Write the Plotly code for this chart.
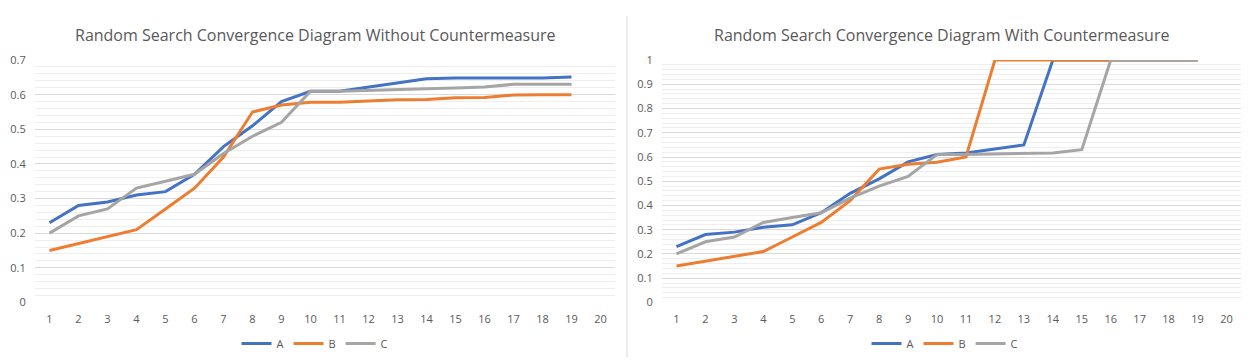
import plotly.graph_objects as go
from plotly.subplots import make_subplots

# =====================================================
# DATA
# =====================================================
iterations = list(range(1, 20))
x_ticks = list(range(1, 21))

# without countermeasure
a_without = [0.23, 0.28, 0.29, 0.31, 0.32, 0.37, 0.45, 0.51, 0.58, 0.61,
             0.61, 0.622, 0.635, 0.646, 0.648, 0.648, 0.648, 0.648, 0.651]
b_without = [0.15, 0.17, 0.19, 0.21, 0.27, 0.33, 0.42, 0.55, 0.57, 0.578,
             0.578, 0.582, 0.585, 0.586, 0.591, 0.592, 0.599, 0.6, 0.6]
c_without = [0.20, 0.25, 0.27, 0.33, 0.35, 0.37, 0.43, 0.48, 0.52, 0.61,
             0.61, 0.613, 0.616, 0.617, 0.619, 0.622, 0.63, 0.63, 0.63]

# with countermeasure
a_with = [0.23, 0.28, 0.29, 0.31, 0.32, 0.37, 0.45, 0.51, 0.58, 0.61,
          0.617, 0.632, 0.65, 1, 1, 1, 1, 1, 1]
b_with = [0.15, 0.17, 0.19, 0.21, 0.27, 0.33, 0.42, 0.55, 0.57, 0.578,
          0.6, 1, 1, 1, 1, 1, 1, 1, 1]
c_with = [0.20, 0.25, 0.27, 0.33, 0.35, 0.37, 0.43, 0.48, 0.52, 0.61,
          0.61, 0.613, 0.614, 0.617, 0.63, 1, 1, 1, 1]

series_names = ["A", "B", "C"]
colors = ["#4472C4", "#ED7D31", "#A5A5A5"]

titles = [
    "Random Search Convergence Diagram Without Countermeasure",
    "Random Search Convergence Diagram With Countermeasure",
]

# =====================================================
# PAGE GEOMETRY
# the page body has an 8px margin, so the figure starts 8px in from
# the window corner; the numbers below are window pixels
# =====================================================
OFF = 8
W, H = 1254 - OFF, 364 - OFF


def px(x):
    return (x - OFF) / W


def py(y):
    return 1 - (y - OFF) / H


# =====================================================
# FIGURE
# =====================================================
fig = make_subplots(rows=1, cols=2)

left = [a_without, b_without, c_without]
right = [a_with, b_with, c_with]

for name, col, ys in zip(series_names, colors, left):
    fig.add_trace(go.Scatter(
        x=iterations, y=ys, name=name, mode="lines",
        line=dict(color=col, width=3), legend="legend",
    ), row=1, col=1)

for name, col, ys in zip(series_names, colors, right):
    fig.add_trace(go.Scatter(
        x=iterations, y=ys, name=name, mode="lines",
        line=dict(color=col, width=3), legend="legend2",
    ), row=1, col=2)

TICK_FONT = dict(family="Open Sans", size=11, color="#595959")
TITLE_FONT = dict(family="Open Sans", size=16, color="#595959")

xaxis_common = dict(
    range=[0.5, 20.5], tickvals=x_ticks, showgrid=False, zeroline=False,
    showline=False, ticks="outside", ticklen=6, tickcolor="rgba(0,0,0,0)",
    tickfont=TICK_FONT, fixedrange=True,
)
yaxis_common = dict(
    showgrid=True, gridcolor="#D9D9D9", gridwidth=1, zeroline=False,
    showline=False, ticks="outside", ticklen=6, tickcolor="rgba(0,0,0,0)",
    tickfont=TICK_FONT,
    minor=dict(dtick=0.02, showgrid=True, gridcolor="#EEEEEE", gridwidth=1),
    fixedrange=True,
)

y_dom = [py(307), py(54)]

fig.update_layout(
    width=W,
    height=H,
    margin=dict(l=0, r=0, t=0, b=0),
    paper_bgcolor="white",
    plot_bgcolor="white",
    xaxis=dict(xaxis_common, domain=[px(35), px(615)]),
    xaxis2=dict(xaxis_common, domain=[px(662), px(1241)]),
    yaxis=dict(yaxis_common, domain=y_dom, range=[0, 0.7], dtick=0.1),
    yaxis2=dict(yaxis_common, domain=y_dom, range=[0, 1], dtick=0.1),
    legend=dict(
        orientation="h", x=px(315), y=py(350), xanchor="center", yanchor="middle",
        font=TICK_FONT, itemwidth=30, tracegroupgap=0,
    ),
    legend2=dict(
        orientation="h", x=px(945), y=py(350), xanchor="center", yanchor="middle",
        font=TICK_FONT, itemwidth=30, tracegroupgap=0,
    ),
    showlegend=True,
)

# titles
for tx, txt in zip([315, 941], titles):
    fig.add_annotation(
        text=txt, x=px(tx), y=py(28), xref="paper", yref="paper",
        showarrow=False, font=TITLE_FONT, xanchor="center", yanchor="middle",
    )

# separator between the two charts
fig.add_shape(type="line", xref="paper", yref="paper",
              x0=px(627), x1=px(627), y0=0, y1=1,
              line=dict(color="#D9D9D9", width=1))

fig.write_html("out.html")
